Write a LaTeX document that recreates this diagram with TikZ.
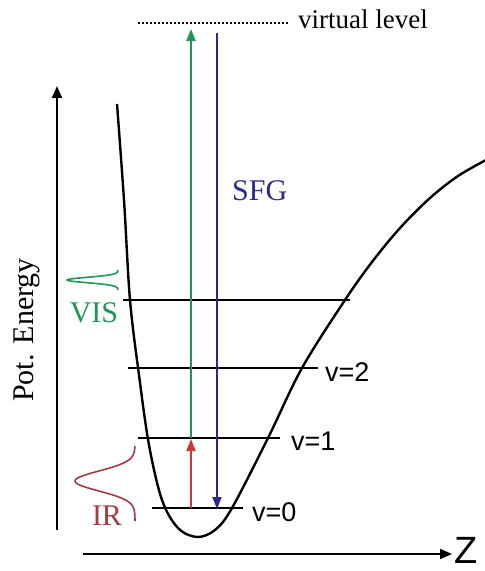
\documentclass[tikz,border=0pt]{standalone}
\usepackage{fontspec}
\setmainfont{Liberation Serif}
\newfontfamily\labelsans{Liberation Sans}
\usepackage{xcolor}
\usetikzlibrary{arrows.meta,positioning}
\definecolor{visgreen}{RGB}{30,150,85}
\definecolor{sfgblue}{RGB}{45,40,140}
\definecolor{irred}{RGB}{205,55,55}
\definecolor{irtext}{RGB}{160,60,70}

\begin{document}
\begin{tikzpicture}[
  x=1pt,y=-1pt,
  axis/.style={-{Triangle[length=12pt,width=10pt]},line width=2pt},
  beam/.style={-{Triangle[length=12pt,width=9pt]},line width=2pt},
  level/.style={line width=1.4pt},
  lbl/.style={font=\fontsize{30}{32}\selectfont,inner sep=0pt},
  vlbl/.style={font=\labelsans\fontsize{27}{29}\selectfont,inner sep=0pt,anchor=base west},
]
  \useasboundingbox (0,0) rectangle (485,571);

  % axes
  \coordinate (yaxS) at (57,530);
  \coordinate (yaxE) at (57,86);
  \coordinate (xaxS) at (83,554);
  \coordinate (xaxE) at (452,554);
  \draw[axis] (yaxS) -- (yaxE);
  \draw[axis] (xaxS) -- (xaxE);
  \node[font=\labelsans\fontsize{38}{40}\selectfont,inner sep=0pt,anchor=base west] (zlbl) at (454,563) {Z};
  \node[lbl,rotate=90,anchor=base] (elbl) at (34,330) {Pot. Energy};

  % potential curve
  \draw[line width=2.4pt] plot[smooth,tension=0.55] coordinates {
    (117,104) (124,200) (130,300) (139,375) (149,445) (162,500) (178,528)
    (197,537) (215,530) (232,508) (268,438) (302,368) (345,300) (372,262)
    (400,228) (430,198) (458,176) (486,160)};

  % levels
  \coordinate (l0w) at (152,508); \coordinate (l0e) at (243,508);
  \coordinate (l1w) at (138,438); \coordinate (l1e) at (280,438);
  \coordinate (l2w) at (128,368); \coordinate (l2e) at (318,368);
  \coordinate (l3w) at (123,300); \coordinate (l3e) at (350,300);
  \draw[level] (l0w) -- (l0e);
  \draw[level] (l1w) -- (l1e);
  \draw[level] (l2w) -- (l2e);
  \draw[level] (l3w) -- (l3e);
  \node[vlbl] (v0) at (252,521) {v=0};
  \node[vlbl] (v1) at (291,450) {v=1};
  \node[vlbl] (v2) at (325,381) {v=2};

  % virtual level
  \coordinate (vlw) at (138,23);
  \coordinate (vle) at (288,23);
  \draw[line width=1.6pt,dash pattern=on 1.6pt off 2.4pt] (vlw) -- (vle);
  \node[lbl,font=\fontsize{27}{29}\selectfont,anchor=base west] (vlbl) at (298,28) {virtual level};

  % beams
  \coordinate (irS) at (191,508); \coordinate (irE) at (191,439);
  \coordinate (visS) at (191,438); \coordinate (visE) at (191,29);
  \coordinate (sfgS) at (217,33); \coordinate (sfgE) at (217,509);
  \draw[beam,irred] (irS) -- (irE);
  \draw[beam,visgreen] (visS) -- (visE);
  \draw[beam,sfgblue] (sfgS) -- (sfgE);
  \node[lbl,sfgblue,anchor=base west] (sfg) at (232,200) {SFG};

  % pulses
  \draw[visgreen,line width=1.6pt] plot[domain=270:290,samples=60] ({118-51*exp(-((\x-280)/3.8)^2)},\x);
  \node[lbl,visgreen,anchor=base] (vis) at (94,322) {VIS};
  \draw[irtext,line width=1.6pt] plot[domain=446:521,samples=80] ({135-60*exp(-((\x-481)/14)^2)},\x);
  \node[lbl,irtext,anchor=base] (ir) at (107,525) {IR};
\end{tikzpicture}
\end{document}
